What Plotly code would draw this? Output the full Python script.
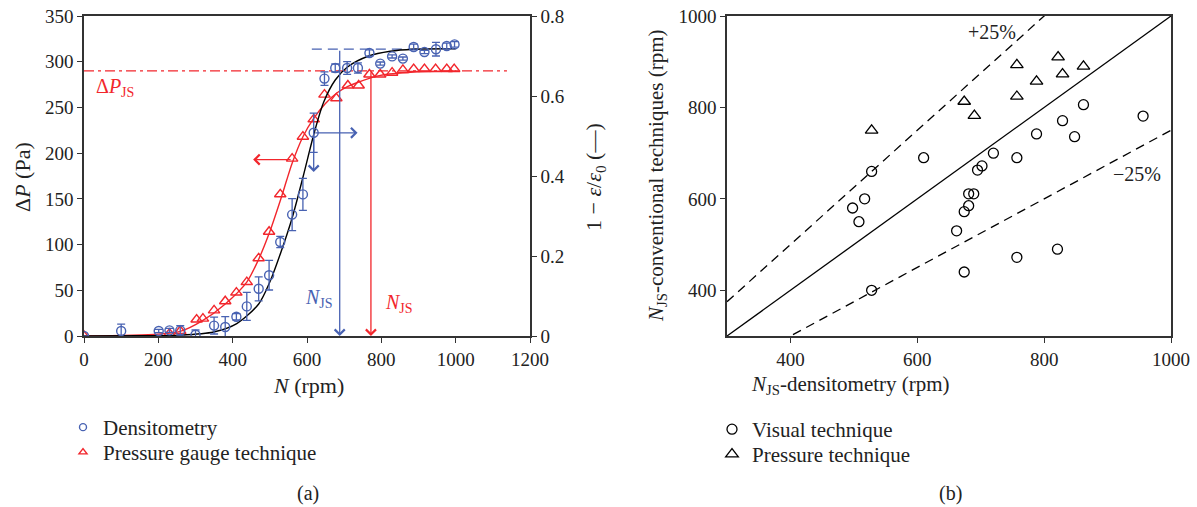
import plotly.graph_objects as go

# ---------------- data: panel (a) ----------------
dens_n = [0, 100, 201, 230, 259, 300, 350, 380, 410, 438, 470, 498, 528, 560, 589,
          618, 647, 676, 708, 737, 768, 797, 829, 858, 887, 916, 947, 976, 997]
dens_y = [0, 0.0125, 0.0125, 0.014, 0.014, 0.003, 0.026, 0.0225, 0.048, 0.074, 0.118, 0.152,
          0.235, 0.3035, 0.354, 0.508, 0.6435, 0.67, 0.67, 0.67, 0.7075, 0.681, 0.699,
          0.6935, 0.7225, 0.71, 0.717, 0.725, 0.729]
dens_err = [0, 0.017, 0.004, 0.005, 0.012, 0.012, 0.021, 0.026, 0.008, 0.035, 0.03, 0.037,
            0.014, 0.04, 0.04, 0.049, 0.017, 0.01, 0.016, 0.013, 0.008, 0.004, 0.004,
            0.004, 0.007, 0.004, 0.017, 0.007, 0.007]

press_n = [0, 230, 259, 303, 320, 350, 380, 410, 438, 470, 498, 528, 560, 589, 618, 647,
           679, 710, 739, 768, 797, 829, 858, 887, 916, 946, 976, 996]
press_dp = [0, 2.6, 5.5, 18, 19, 28, 38, 47.5, 59, 85, 114, 155, 194, 218, 237, 264,
            260, 274, 274, 286, 286, 288, 291, 292, 292, 292, 292, 292]

# fitted curves
fit_d_n = [0, 150, 260, 349, 411, 470, 500, 530, 560, 590, 620, 645, 676, 708, 766, 824, 887, 1000]
fit_d_y = [0, 0.0005, 0.002, 0.01, 0.031, 0.08, 0.135, 0.21, 0.295, 0.40, 0.51, 0.585,
           0.64, 0.672, 0.70, 0.712, 0.717, 0.718]
fit_p_n = [0, 200, 259, 320, 380, 438, 470, 498, 528, 545, 560, 589, 618, 649, 681, 710,
           734, 797, 887, 1000]
fit_p_dp = [0, 2, 5, 17, 35, 59, 84, 112, 148, 170, 189, 218, 238, 254, 266, 273, 277,
            285, 288.7, 290]

dp_js = 290          # Pa
eps_js = 0.717       # 1 - eps/eps0 at plateau
njs_dens = 688       # rpm
njs_press = 772      # rpm

# ---------------- data: panel (b) ----------------
vis_x = [610, 528, 862, 956, 829, 788, 848, 720, 757, 702, 695, 681, 689, 681, 674, 662,
         757, 821, 674, 517, 498, 508, 528]
vis_y = [690, 660, 806, 781, 771, 742, 736, 700, 690, 672, 663, 611, 611, 585, 572, 530,
         472, 490, 440, 600, 580, 550, 400]
prs_x = [528, 822, 757, 862, 829, 788, 757, 674, 690]
prs_y = [750, 910, 893, 890, 873, 857, 824, 813, 782]
ratios = [1.0, 1.25, 0.75]

BLUE = "#4862b2"
RED = "#f2262c"
FONT = "Liberation Serif"
W, H = 1197, 507


def px(v):
    return v / W


def py(v):
    return 1 - v / H


fig = go.Figure()

# panel (a) ------------------------------------------------------------
fig.add_trace(go.Scatter(x=[0, 1138], y=[dp_js, dp_js], mode="lines", xaxis="x", yaxis="y",
                         line=dict(color=RED, width=1.3, dash="10px,4px,3px,4px"),
                         showlegend=False, hoverinfo="skip"))
fig.add_trace(go.Scatter(x=[613, 895], y=[eps_js, eps_js], mode="lines", xaxis="x", yaxis="y2",
                         line=dict(color=BLUE, width=1.3, dash="10px,6px"),
                         showlegend=False, hoverinfo="skip"))
fig.add_trace(go.Scatter(x=fit_p_n, y=fit_p_dp, mode="lines", xaxis="x", yaxis="y",
                         line=dict(color=RED, width=1.4, shape="spline", smoothing=0.8),
                         showlegend=False, hoverinfo="skip"))
fig.add_trace(go.Scatter(x=fit_d_n, y=fit_d_y, mode="lines", xaxis="x", yaxis="y2",
                         line=dict(color="black", width=1.4, shape="spline", smoothing=0.8),
                         showlegend=False, hoverinfo="skip"))
fig.add_trace(go.Scatter(x=press_n, y=press_dp, mode="markers", xaxis="x", yaxis="y",
                         marker=dict(symbol="triangle-up-open", size=10, color=RED,
                                     line=dict(width=1.4, color=RED)),
                         showlegend=False))
fig.add_trace(go.Scatter(x=dens_n, y=dens_y, mode="markers", xaxis="x", yaxis="y2",
                         marker=dict(symbol="circle-open", size=9, color=BLUE,
                                     line=dict(width=1.4, color=BLUE)),
                         error_y=dict(type="data", array=dens_err, color=BLUE,
                                      thickness=1.3, width=4),
                         showlegend=False))
# legend entries (a)
fig.add_trace(go.Scatter(x=[None], y=[None], mode="markers", xaxis="x", yaxis="y",
                         name="Densitometry", legend="legend",
                         marker=dict(symbol="circle-open", size=7, color=BLUE,
                                     line=dict(width=1.4, color=BLUE))))
fig.add_trace(go.Scatter(x=[None], y=[None], mode="markers", xaxis="x", yaxis="y",
                         name="Pressure gauge technique", legend="legend2",
                         marker=dict(symbol="triangle-up-open", size=7, color=RED,
                                     line=dict(width=1.4, color=RED))))

# panel (b) ------------------------------------------------------------
for r in ratios:
    fig.add_trace(go.Scatter(x=[300, 1000], y=[300 * r, 1000 * r], mode="lines",
                             xaxis="x3", yaxis="y3",
                             line=dict(color="black", width=1.3,
                                       dash="solid" if r == 1.0 else "9px,6px"),
                             showlegend=False, hoverinfo="skip"))
fig.add_trace(go.Scatter(x=vis_x, y=vis_y, mode="markers", xaxis="x3", yaxis="y3",
                         name="Visual technique", legend="legend3",
                         marker=dict(symbol="circle-open", size=10, color="black",
                                     line=dict(width=1.3, color="black"))))
fig.add_trace(go.Scatter(x=prs_x, y=prs_y, mode="markers", xaxis="x3", yaxis="y3",
                         name="Pressure technique", legend="legend4",
                         marker=dict(symbol="triangle-up-open", size=11, color="black",
                                     line=dict(width=1.3, color="black"))))

axis_common = dict(showline=True, linecolor="#333333", linewidth=1.5, ticks="outside",
                   ticklen=5, tickwidth=1.3, tickcolor="#333333", showgrid=False,
                   zeroline=False, automargin=False,
                   tickfont=dict(family=FONT, size=19, color="#222"))

dom_a_x = [px(84), px(530)]
dom_b_x = [px(727), px(1171)]
dom_y = [py(336), py(16)]

annotations = []


def arrow(x, y, ax, ay, color, yref="y"):
    annotations.append(dict(x=x, y=y, ax=ax, ay=ay, xref="x", yref=yref, axref="x", ayref=yref,
                            showarrow=True, arrowhead=4, arrowsize=1.5, arrowwidth=1.3,
                            arrowcolor=color, text=""))


arrow(njs_dens, 0, njs_dens, eps_js, BLUE, "y2")
arrow(njs_press, 0, njs_press, dp_js, RED, "y")
arrow(736, 0.508, 618, 0.508, BLUE, "y2")
arrow(618, 0.41, 618, 0.508, BLUE, "y2")
arrow(455, 193, 560, 193, RED, "y")


def txt(x, y, s, xref, yref, color="#222", size=20, angle=0):
    annotations.append(dict(x=x, y=y, text=s, xref=xref, yref=yref, showarrow=False,
                            textangle=angle, xanchor="center", yanchor="middle",
                            font=dict(family=FONT, size=size, color=color)))


txt(84, 272, "Δ<i>P</i><sub>JS</sub>", "x", "y", color=RED)
txt(633, 0.094, "<i>N</i><sub>JS</sub>", "x", "y2", color=BLUE)
txt(848, 35.8, "<i>N</i><sub>JS</sub>", "x", "y", color=RED)
txt(718, 964, "+25%", "x3", "y3")
txt(946, 655, "−25%", "x3", "y3")

# axis titles
txt(px(308), py(385), "<i>N</i> (rpm)", "paper", "paper", size=22)
txt(px(22), py(177), "Δ<i>P</i> (Pa)", "paper", "paper", size=22, angle=-90)
txt(px(595), py(177), "1 − <i>ε</i>/<i>ε</i><sub>0</sub> (—)", "paper", "paper", size=22,
    angle=-90)
txt(px(850), py(385), "<i>N</i><sub>JS</sub>-densitometry (rpm)", "paper", "paper", size=21)
txt(px(657), py(176), "<i>N</i><sub>JS</sub>-conventional techniques (rpm)", "paper", "paper",
    size=21, angle=-90)
txt(px(308), py(493), "(a)", "paper", "paper")
txt(px(950), py(493), "(b)", "paper", "paper")

legend_style = dict(font=dict(family=FONT, size=21, color="#222"), bgcolor="rgba(0,0,0,0)",
                    xanchor="left", yanchor="top", tracegroupgap=0, itemwidth=30)

fig.update_layout(
    template="none",
    width=W, height=H, margin=dict(l=0, r=0, t=0, b=0, pad=0, autoexpand=False),
    paper_bgcolor="white", plot_bgcolor="white",
    xaxis=dict(domain=dom_a_x, range=[0, 1200], dtick=200, anchor="y", mirror=True,
               **axis_common),
    yaxis=dict(domain=dom_y, range=[0, 350], dtick=50, anchor="x", **axis_common),
    yaxis2=dict(domain=dom_y, range=[0, 0.8], dtick=0.2, overlaying="y", side="right",
                anchor="x", **axis_common),
    xaxis3=dict(domain=dom_b_x, range=[300, 1000], dtick=200, anchor="y3", mirror=True,
                **axis_common),
    yaxis3=dict(domain=dom_y, range=[300, 1000], dtick=200, anchor="x3", mirror=True,
                **axis_common),
    legend=dict(x=px(63), y=py(407), **legend_style),
    legend2=dict(x=px(63), y=py(432), **legend_style),
    legend3=dict(x=px(712), y=py(409), **legend_style),
    legend4=dict(x=px(712), y=py(434), **legend_style),
    annotations=annotations,
    showlegend=True,
)

fig.write_html("out.html")
